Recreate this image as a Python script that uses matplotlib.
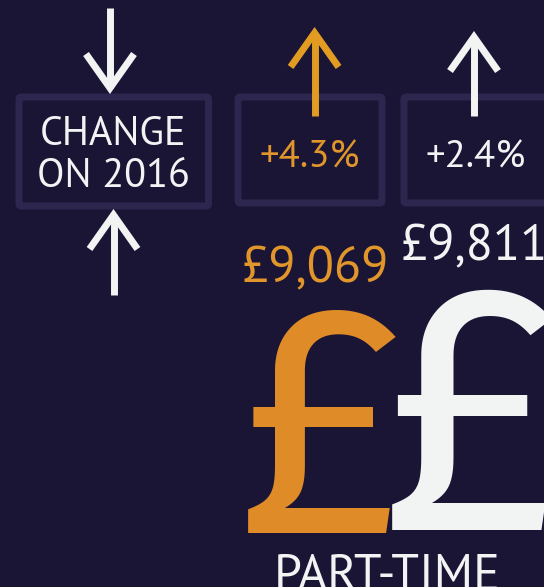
import matplotlib.pyplot as plt
from matplotlib.patches import FancyBboxPatch

# data
header_lines = ["CHANGE", "ON 2016"]
salaries = [9069, 9811]
changes = [4.3, 2.4]
series_colors = ["#df8c28", "#f2f4f4"]
change_colors = ["#e0962a", "#f2f4f4"]
arrow_colors = ["#e29c22", "#f2f4f4"]
bottom_label = "PART-TIME"

BG = "#1b1535"
BOX = "#2d264f"
WHITE = "#f2f4f4"
FONT = "PT Sans"
BIG_FONT = "Fira Sans"

W, H = 544, 587
fig = plt.figure(figsize=(W / 100, H / 100), dpi=100)
fig.patch.set_facecolor(BG)
ax = fig.add_axes([0, 0, 1, 1])
ax.set_xlim(0, W)
ax.set_ylim(H, 0)
ax.axis("off")
ax.set_facecolor(BG)

LW = 5.0  # ~7 px


def box(x0, y0, x1, y1):
    p = FancyBboxPatch((x0, y0), x1 - x0, y1 - y0,
                       boxstyle="round,pad=0,rounding_size=2",
                       fill=False, edgecolor=BOX, linewidth=LW,
                       joinstyle="round")
    ax.add_patch(p)


def arrow(x, tip, tail, color, up=True, half=24, length=34):
    d = 1 if up else -1
    vtx = tip + d * 6
    ax.plot([x, x], [vtx, tail], color=color, lw=LW, solid_capstyle="butt")
    ax.plot([x - half, x, x + half], [vtx + d * length, vtx, vtx + d * length],
            color=color, lw=LW, solid_joinstyle="miter", solid_capstyle="butt")


# header box
box(19, 97, 208.5, 206)
ax.text(113, 145, header_lines[0], color=WHITE, fontsize=29, family=FONT,
        ha="center", va="baseline")
ax.text(113, 187, header_lines[1], color=WHITE, fontsize=29, family=FONT,
        ha="center", va="baseline")
arrow(110, 94, 8, WHITE, up=False)
arrow(113.5, 209, 295, WHITE, up=True)

# series boxes
cols = [310, 476]
box_x = [(238, 382), (404, 570)]
tips = [27, 31]
arrow_x = [314.6, 474]
value_x = [315, 474]
value_base = [282, 260]
pound_x = [320, 470]
pound_base = [533, 530]
scale = 236 / salaries[0]

for i in range(len(salaries)):
    box(box_x[i][0], 97, box_x[i][1], 203)
    arrow(arrow_x[i], tips[i], 116, arrow_colors[i], up=True)
    ax.text(cols[i], 167, f"+{changes[i]:.1f}%", color=change_colors[i],
            fontsize=28, family=FONT, ha="center", va="baseline")
    ax.text(value_x[i], value_base[i], f"£{salaries[i]:,}", color=change_colors[i],
            fontsize=36, family=FONT, ha="center", va="baseline")
    ax.text(pound_x[i], pound_base[i], "£", color=series_colors[i],
            fontsize=salaries[i] * scale, family=BIG_FONT, ha="center", va="baseline")

ax.text(387, 590, bottom_label, color=WHITE, fontsize=36, family=FONT,
        ha="center", va="baseline", clip_on=True)

fig.savefig("out.png", dpi=100, facecolor=BG)
